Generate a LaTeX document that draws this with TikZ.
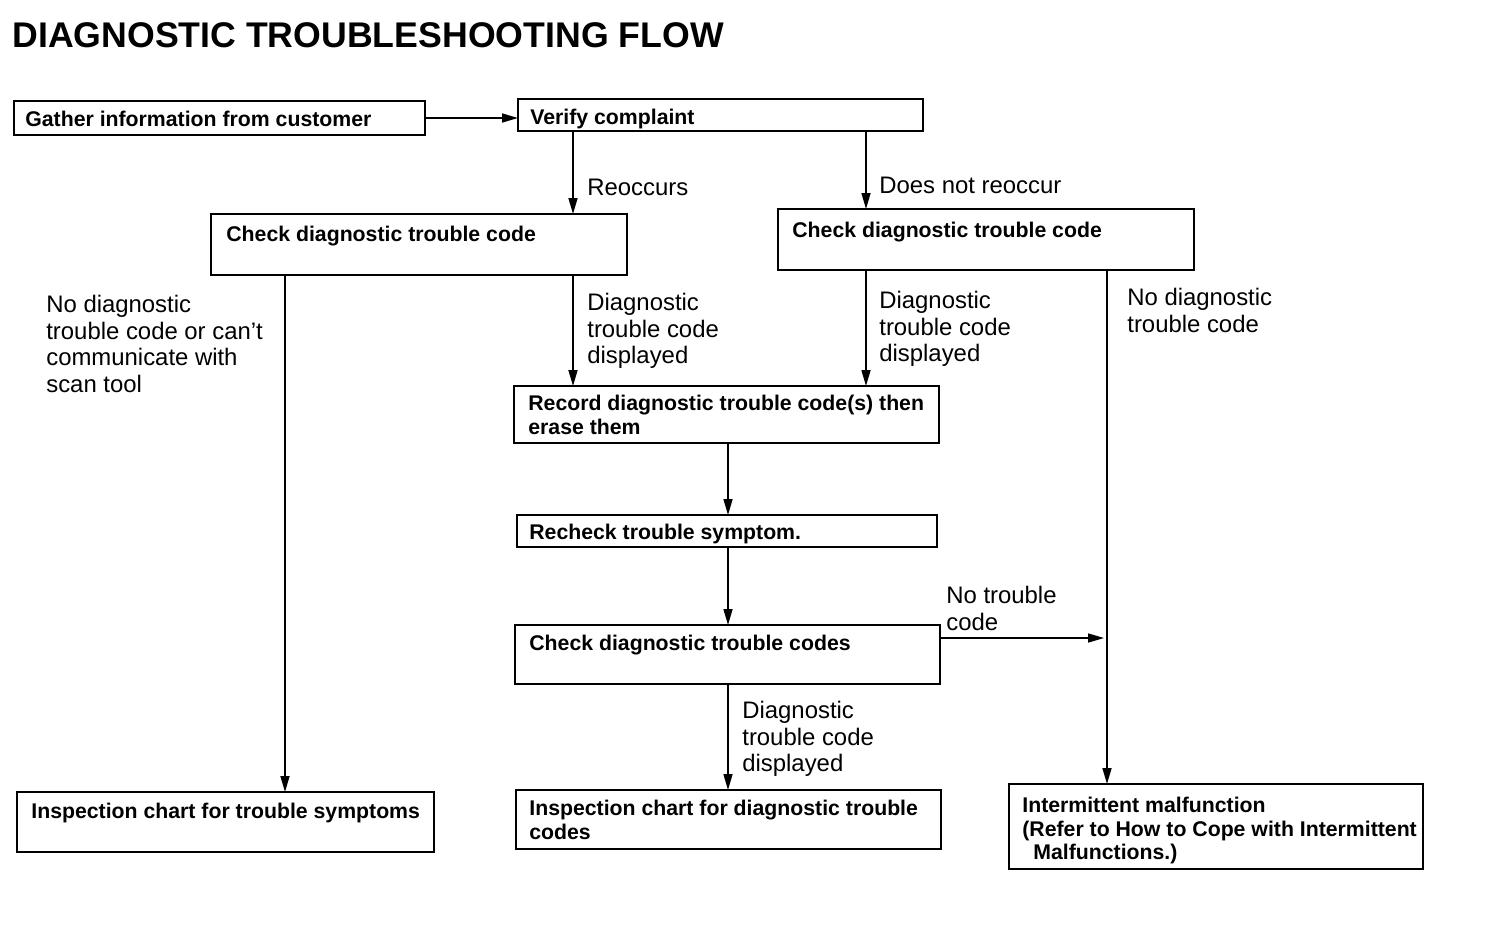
\documentclass[tikz,border=0pt]{standalone}
\usepackage{fontspec}
\setmainfont{Liberation Sans}
\usetikzlibrary{arrows.meta}
\tikzset{
  box/.style={draw,line width=1.5pt,anchor=north west,inner sep=0pt,outer sep=0pt},
  boxtext/.style={inner sep=0pt,font=\fontsize{12.1}{13.4}\selectfont\bfseries,align=left},
  lbl/.style={inner sep=0pt,font=\fontsize{13.6}{15.1}\selectfont,align=left},
  arr/.style={-{Triangle[length=0.32cm,width=0.18cm]},line width=0.9pt},
}
\begin{document}
\begin{tikzpicture}[x=0.02cm,y=-0.02cm]
\useasboundingbox (0,0) rectangle (1504,934);
\node[anchor=base west,inner sep=0pt,font=\fontsize{20.3}{24}\selectfont\bfseries] (title) at (12,47) {DIAGNOSTIC TROUBLESHOOTING FLOW};
% boxes
\node[box,minimum width=8.22cm,minimum height=0.68cm] (gather) at (14,101) {};
\node[box,minimum width=8.10cm,minimum height=0.64cm] (verify) at (518,99) {};
\node[box,minimum width=8.32cm,minimum height=1.22cm] (chkL) at (211,214) {};
\node[box,minimum width=8.32cm,minimum height=1.22cm] (chkR) at (778,209) {};
\node[box,minimum width=8.50cm,minimum height=1.14cm] (record) at (514,386) {};
\node[box,minimum width=8.40cm,minimum height=0.64cm] (recheck) at (517,515) {};
\node[box,minimum width=8.50cm,minimum height=1.18cm] (chkS) at (515,625) {};
\node[box,minimum width=8.34cm,minimum height=1.20cm] (inspS) at (17,792) {};
\node[box,minimum width=8.50cm,minimum height=1.18cm] (inspD) at (516,790) {};
\node[box,minimum width=8.28cm,minimum height=1.70cm] (interm) at (1009,784) {};
% box texts
\node[boxtext,anchor=base west] (gatherT) at (25,126) {Gather information from customer};
\node[boxtext,anchor=base west] (verifyT) at (530,124) {Verify complaint};
\node[boxtext,anchor=base west] (chkLT) at (226,241) {Check diagnostic trouble code};
\node[boxtext,anchor=base west] (chkRT) at (792,237) {Check diagnostic trouble code};
\node[boxtext,anchor=north west] (recordT) at (528,395) {Record diagnostic trouble code(s) then\\erase them};
\node[boxtext,anchor=base west] (recheckT) at (529,539) {Recheck trouble symptom.};
\node[boxtext,anchor=base west] (chkST) at (529,650) {Check diagnostic trouble codes};
\node[boxtext,anchor=base west] (inspST) at (31,818) {Inspection chart for trouble symptoms};
\node[boxtext,anchor=north west] (inspDT) at (529,800) {Inspection chart for diagnostic trouble\\codes};
\node[boxtext,anchor=north west] (intermT) at (1022,797) {Intermittent malfunction\\(Refer to How to Cope with Intermittent\\\hspace*{0.22cm}Malfunctions.)};
% labels
\node[lbl,anchor=base west] (reoc) at (587,195) {Reoccurs};
\node[lbl,anchor=base west] (noreoc) at (879,193) {Does not reoccur};
\node[lbl,anchor=north west] (noL) at (46,295) {No diagnostic\\trouble code or can't\\communicate with\\scan tool};
\node[lbl,anchor=north west] (dispL) at (587,293) {Diagnostic\\trouble code\\displayed};
\node[lbl,anchor=north west] (dispR) at (879,291) {Diagnostic\\trouble code\\displayed};
\node[lbl,anchor=north west] (noR) at (1127,288) {No diagnostic\\trouble code};
\node[lbl,anchor=north west] (notc) at (946,586) {No trouble\\code};
\node[lbl,anchor=north west] (dispS) at (742,701) {Diagnostic\\trouble code\\displayed};
% columns of the arrows
\coordinate (colA) at (573,0);
\coordinate (colB) at (866,0);
\coordinate (colC) at (285,0);
\coordinate (colD) at (1107,0);
\coordinate (colE) at (728,0);
\coordinate (ntc) at (1104,638);
% connectors
\draw[arr] (gather.east) -- (gather.east -| verify.west);
\draw[arr] (verify.south -| colA) -- (chkL.north -| colA);
\draw[arr] (verify.south -| colB) -- (chkR.north -| colB);
\draw[arr] (chkL.south -| colC) -- (inspS.north -| colC);
\draw[arr] (chkL.south -| colA) -- (record.north -| colA);
\draw[arr] (chkR.south -| colB) -- (record.north -| colB);
\draw[arr] (chkR.south -| colD) -- (interm.north -| colD);
\draw[arr] (record.south -| colE) -- (recheck.north -| colE);
\draw[arr] (recheck.south -| colE) -- (chkS.north -| colE);
\draw[arr] (chkS.south -| colE) -- (inspD.north -| colE);
\draw[arr] (chkS.east |- ntc) -- (ntc);
\end{tikzpicture}
\end{document}
